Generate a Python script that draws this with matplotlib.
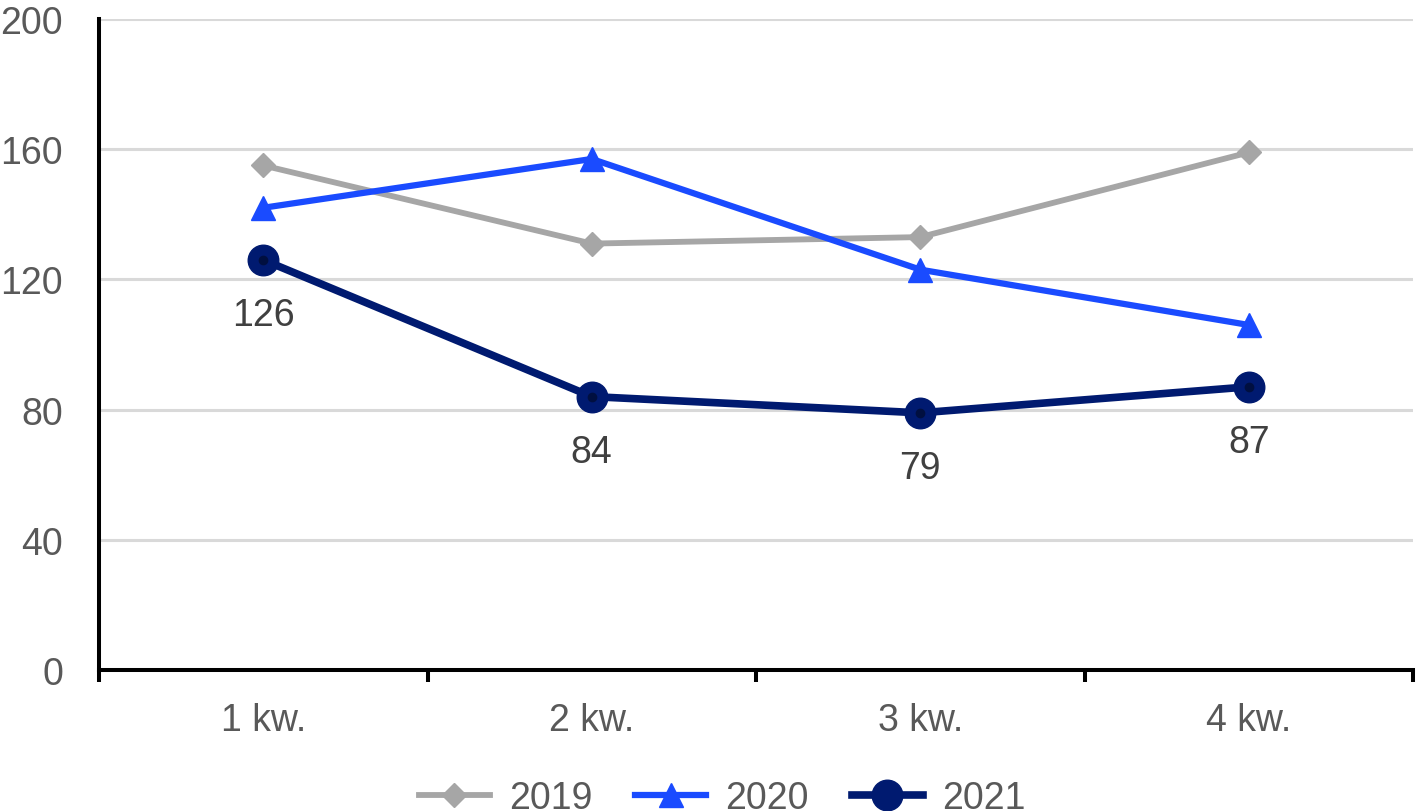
import matplotlib
matplotlib.use("Agg")
import matplotlib.pyplot as plt
from matplotlib.ticker import FixedLocator

plt.rcParams['font.family'] = ['Liberation Sans', 'DejaVu Sans']

categories = ["1 kw.", "2 kw.", "3 kw.", "4 kw."]
years = ["2019", "2020", "2021"]
values_2019 = [155, 131, 133, 159]
values_2020 = [142, 157, 123, 106]
values_2021 = [126, 84, 79, 87]
yticks = [0, 40, 80, 120, 160, 200]

W, H = 1417, 812
fig = plt.figure(figsize=(W / 100, H / 100), dpi=100)
ax = fig.add_axes([99 / W, 1 - 671 / H, (1413 - 99) / W, (671 - 20) / H])

x = list(range(len(categories)))
tick_color = '#595959'
fs = 27

l1, = ax.plot(x, values_2019, color='#A6A6A6', lw=4.2, marker='D', markersize=12.5,
              markeredgecolor='#A6A6A6', markerfacecolor='#A6A6A6', zorder=3,
              solid_joinstyle='round', label=years[0])
l2, = ax.plot(x, values_2020, color='#1A4BFF', lw=4.5, marker='^', markersize=17,
              markeredgecolor='#1A4BFF', markerfacecolor='#1A4BFF', zorder=4,
              solid_joinstyle='round', label=years[1])
l3, = ax.plot(x, values_2021, color='#001A70', lw=5.5, marker='o', markersize=22,
              markeredgecolor='#001A70', markerfacecolor='#001A70', zorder=5,
              solid_joinstyle='round', label=years[2])
ax.plot(x, values_2021, linestyle='none', marker='o', markersize=7,
        markerfacecolor='#000F40', markeredgecolor='none', zorder=6)

for xi, v in zip(x, values_2021):
    ax.annotate(str(v), (xi, v), xytext=(0, -40), textcoords='offset points',
                ha='center', va='center', fontsize=fs, color='#404040', zorder=7)

ax.set_xlim(-0.5, len(categories) - 0.5)
ax.set_ylim(0, 200)
ax.set_yticks(yticks)
ax.set_yticklabels([str(t) for t in yticks])
ax.set_xticks(x)
ax.set_xticklabels(categories)
ax.xaxis.set_minor_locator(FixedLocator([i - 0.5 for i in range(len(categories) + 1)]))

ax.tick_params(axis='y', length=0, pad=26, labelsize=fs, labelcolor=tick_color)
ax.tick_params(axis='x', which='major', length=0, pad=23, labelsize=fs, labelcolor=tick_color)
ax.tick_params(axis='x', which='minor', length=8.5, width=2.9, color='black', direction='out')

for s in ['top', 'right']:
    ax.spines[s].set_visible(False)
for s in ['left', 'bottom']:
    ax.spines[s].set_linewidth(2.9)
    ax.spines[s].set_color('black')
ax.spines['left'].set_zorder(8)
ax.spines['bottom'].set_zorder(8)

ax.grid(axis='y', color='#D9D9D9', lw=2.2, zorder=0)
ax.set_axisbelow(True)

leg = fig.legend(handles=[l1, l2, l3], loc='center', bbox_to_anchor=(722 / W, 1 - 799 / H),
                 ncol=3, frameon=False, fontsize=fs, handlelength=1.9,
                 handletextpad=0.5, columnspacing=1.15, labelcolor=tick_color)

fig.savefig('out.png', dpi=100)
